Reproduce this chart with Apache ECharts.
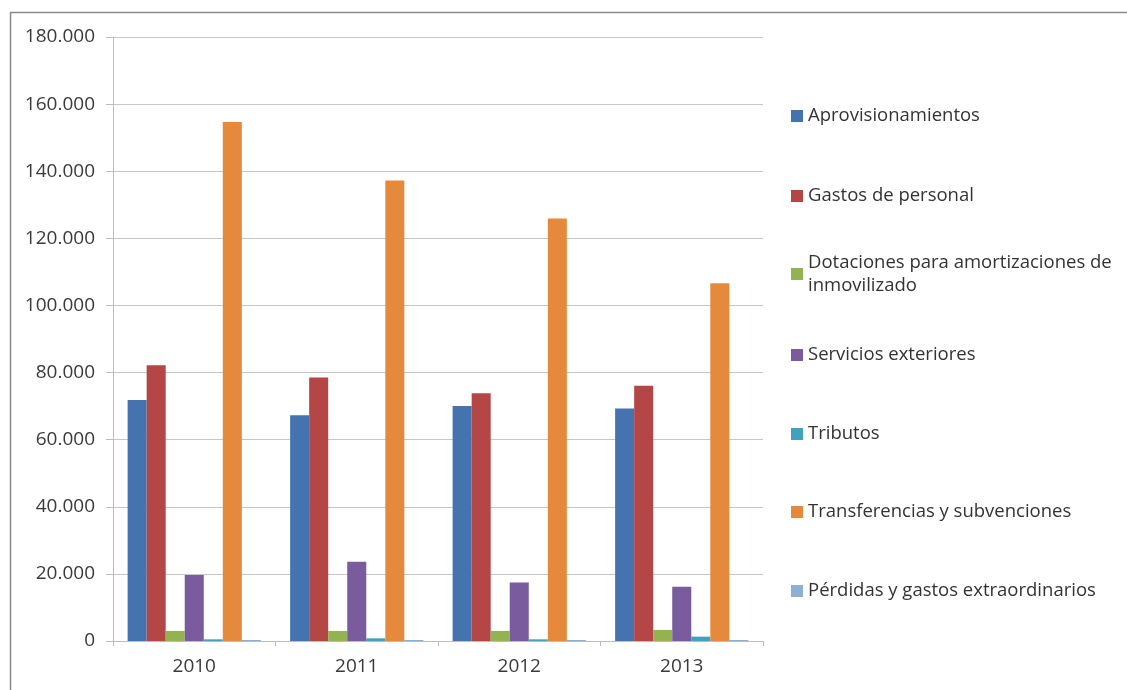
<!DOCTYPE html>
<html>
<head>
<meta charset="utf-8">
<script src="https://cdn.jsdelivr.net/npm/echarts@6/dist/echarts.min.js"></script>
<style>
html,body{margin:0;padding:0;background:#fff;}
#c{width:1127px;height:690px;}
</style>
</head>
<body>
<div id="c"></div>
<script>
var categories = ['2010', '2011', '2012', '2013'];
var seriesNames = [
  'Aprovisionamientos',
  'Gastos de personal',
  'Dotaciones para amortizaciones de inmovilizado',
  'Servicios exteriores',
  'Tributos',
  'Transferencias y subvenciones',
  'Pérdidas y gastos extraordinarios'
];
var aprovisionamientos = [71800, 67300, 70000, 69300];
var gastosPersonal = [82200, 78500, 73800, 76100];
var dotaciones = [3000, 3000, 3000, 3300];
var serviciosExteriores = [19700, 23600, 17400, 16200];
var tributos = [500, 800, 500, 1300];
var transferencias = [154700, 137200, 125900, 106600];
var perdidas = [300, 300, 300, 300];
var yTicks = { min: 0, max: 180000, interval: 20000 };

var seriesValues = [aprovisionamientos, gastosPersonal, dotaciones, serviciosExteriores, tributos, transferencias, perdidas];
var colors = ['#4473b0', '#b44646', '#93b350', '#7a5c9e', '#40a2bc', '#e58a3c', '#8eaed8'];
var FONT = 'Open Sans';
var legendCenters = [116, 196, 274, 355, 434, 512, 591];

function fmt(v) {
  return String(v).replace(/\B(?=(\d{3})+(?!\d))/g, '.');
}

var legends = seriesNames.map(function (name, i) {
  var multi = (i === 2);
  return {
    orient: 'vertical',
    left: 791,
    top: legendCenters[i] - (multi ? 34.5 : 11.5),
    padding: 0,
    itemWidth: 12,
    itemHeight: 12,
    icon: 'rect',
    data: [multi ? { name: name, textStyle: { padding: [23, 0, 0, 0] } } : name],
    formatter: function (n) {
      return n === seriesNames[2] ? 'Dotaciones para amortizaciones de\ninmovilizado' : n;
    },
    textStyle: { fontFamily: FONT, fontSize: 18.5, color: '#333', lineHeight: 23 }
  };
});

var chart = echarts.init(document.getElementById('c'));
chart.setOption({
  animation: false,
  color: colors,
  graphic: [{
    type: 'rect',
    shape: { x: 10.5, y: 12.5, width: 1200, height: 800 },
    style: { fill: 'none', stroke: '#8a8a8a', lineWidth: 1.5 },
    silent: true, z: -1
  }],
  legend: legends,
  grid: { left: 113, top: 37, right: 364, bottom: 49, containLabel: false },
  xAxis: {
    type: 'category',
    data: categories,
    axisLine: { lineStyle: { color: '#bdbdbd', width: 1 } },
    axisTick: { show: true, length: 5, alignWithLabel: false, lineStyle: { color: '#bdbdbd' } },
    axisLabel: { margin: 16, fontFamily: FONT, fontSize: 19, color: '#3a3a3a' }
  },
  yAxis: {
    type: 'value',
    min: yTicks.min, max: yTicks.max, interval: yTicks.interval,
    axisLine: { show: true, lineStyle: { color: '#bdbdbd', width: 1 } },
    axisTick: { show: true, length: 7, lineStyle: { color: '#bdbdbd' } },
    splitLine: { show: true, lineStyle: { color: '#c6c6c6', width: 1 } },
    axisLabel: { margin: 18, fontFamily: FONT, fontSize: 19, color: '#3a3a3a', formatter: fmt }
  },
  series: seriesNames.map(function (name, i) {
    return {
      name: name,
      type: 'bar',
      data: seriesValues[i],
      barGap: '0%',
      barCategoryGap: '18%',
      itemStyle: { color: colors[i] }
    };
  })
});
</script>
</body>
</html>
